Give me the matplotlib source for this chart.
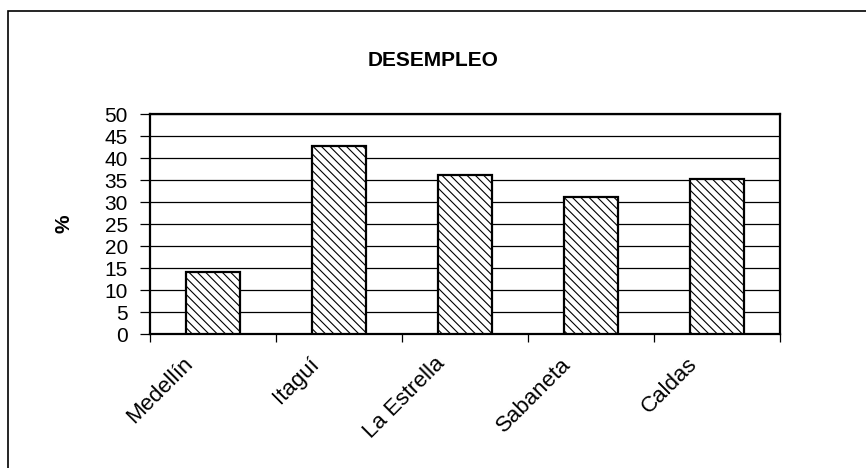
import numpy as np
import matplotlib.pyplot as plt
from matplotlib.patches import Rectangle
from matplotlib.transforms import ScaledTranslation

municipios = ["Medellín", "Itaguí", "La Estrella", "Sabaneta", "Caldas"]
desempleo = [14.0, 42.7, 36.1, 31.1, 35.2]
yticks = [0, 5, 10, 15, 20, 25, 30, 35, 40, 45, 50]

plt.rcParams["font.family"] = ["Liberation Sans", "DejaVu Sans"]
plt.rcParams["hatch.linewidth"] = 0.8

fig = plt.figure(figsize=(8.66, 4.68), dpi=100)
W, H = 866, 468
ax = fig.add_axes([150 / W, 1 - 334 / H, 630 / W, 220 / H])

x = np.arange(len(municipios))
ax.bar(x, desempleo, width=0.43, color="white", edgecolor="black",
       linewidth=1.6, hatch="\\\\\\\\", zorder=3)

ax.set_xlim(-0.5, len(municipios) - 0.5)
ax.set_ylim(0, 50)
ax.set_yticks(yticks)
ax.set_yticklabels([str(v) for v in yticks], fontsize=15)
ax.yaxis.grid(True, color="black", linewidth=0.9)
ax.set_axisbelow(True)

ax.set_xticks(x)
ax.set_xticklabels(municipios, fontsize=16, rotation=45, ha="right",
                   va="center", rotation_mode="anchor")
ax.set_xticks(np.arange(len(municipios) + 1) - 0.5, minor=True)
ax.tick_params(axis="x", which="major", length=0, pad=0)
ax.tick_params(axis="x", which="minor", length=6, width=0.9, direction="out")
ax.tick_params(axis="y", length=7, width=0.9, pad=9)

# shift the rotated category names down-left like the original
shift = ScaledTranslation(-0.23, -0.27, fig.dpi_scale_trans)
for lab in ax.get_xticklabels():
    lab.set_transform(lab.get_transform() + shift)

for s in ax.spines.values():
    s.set_linewidth(1.6)
    s.set_color("black")

ax.set_ylabel("%", fontsize=15, fontweight="bold", labelpad=22)
fig.text(0.5, 1 - 60 / H, "DESEMPLEO", ha="center", va="center",
         fontsize=15, fontweight="bold")

# outer chart frame
fig.patches.append(Rectangle((8 / W, -0.1), 1.2, 1 - 11 / H + 0.1,
                             transform=fig.transFigure, fill=False,
                             edgecolor="black", linewidth=1.2))

fig.savefig("out.png", dpi=100)
